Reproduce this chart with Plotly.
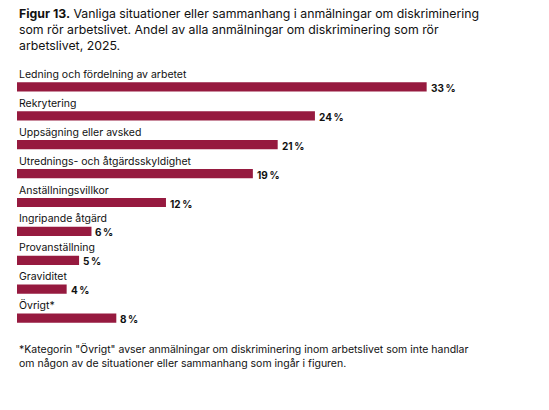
import plotly.graph_objects as go

categories = ["Ledning och fördelning av arbetet", "Rekrytering", "Uppsägning eller avsked",
              "Utrednings- och åtgärdsskyldighet", "Anställningsvillkor", "Ingripande åtgärd",
              "Provanställning", "Graviditet", "Övrigt*"]
values = [33, 24, 21, 19, 12, 6, 5, 4, 8]

FONT = "Inter, Roboto, sans-serif"
COLOR = "#961a3f"
pos = list(range(len(categories)))

fig = go.Figure(go.Bar(
    x=values, y=pos, orientation="h", width=0.32,
    marker=dict(color=COLOR, line=dict(width=0)),
    showlegend=False, hoverinfo="skip",
))

for i, (c, v) in enumerate(zip(categories, values)):
    fig.add_annotation(x=0, y=i, text=c, showarrow=False, xanchor="left", yanchor="bottom",
                       yshift=4, font=dict(size=10.5, color="#111", family=FONT))
    fig.add_annotation(x=v, y=i, text=f"<b>{v}\u2009%</b>", showarrow=False, xanchor="left",
                       yanchor="middle", xshift=2, yshift=-1,
                       font=dict(size=10, color="#111", family=FONT))

fig.add_annotation(xref="paper", yref="paper", x=0, y=1, xanchor="left", yanchor="bottom",
                   yshift=3, align="left", showarrow=False,
                   text=("<b>Figur 13.</b> Vanliga situationer eller sammanhang i anmälningar om diskriminering<br>"
                         "som rör arbetslivet. Andel av alla anmälningar om diskriminering som rör<br>"
                         "arbetslivet, 2025."),
                   font=dict(size=12.3, color="#111", family=FONT))
fig.add_annotation(xref="paper", yref="paper", x=0, y=0, xanchor="left", yanchor="top",
                   yshift=6, align="left", showarrow=False,
                   text=("*Kategorin \"Övrigt\" avser anmälningar om diskriminering inom arbetslivet som inte handlar<br>"
                         "om någon av de situationer eller sammanhang som ingår i figuren."),
                   font=dict(size=10.5, color="#111", family=FONT))

fig.update_layout(
    width=549, height=410,
    margin=dict(l=9, r=0, t=50, b=71),
    paper_bgcolor="white", plot_bgcolor="white",
    xaxis=dict(range=[0, 43.5], visible=False, fixedrange=True),
    yaxis=dict(range=[9, -1], visible=False, fixedrange=True),
)

fig.write_html("out.html")
